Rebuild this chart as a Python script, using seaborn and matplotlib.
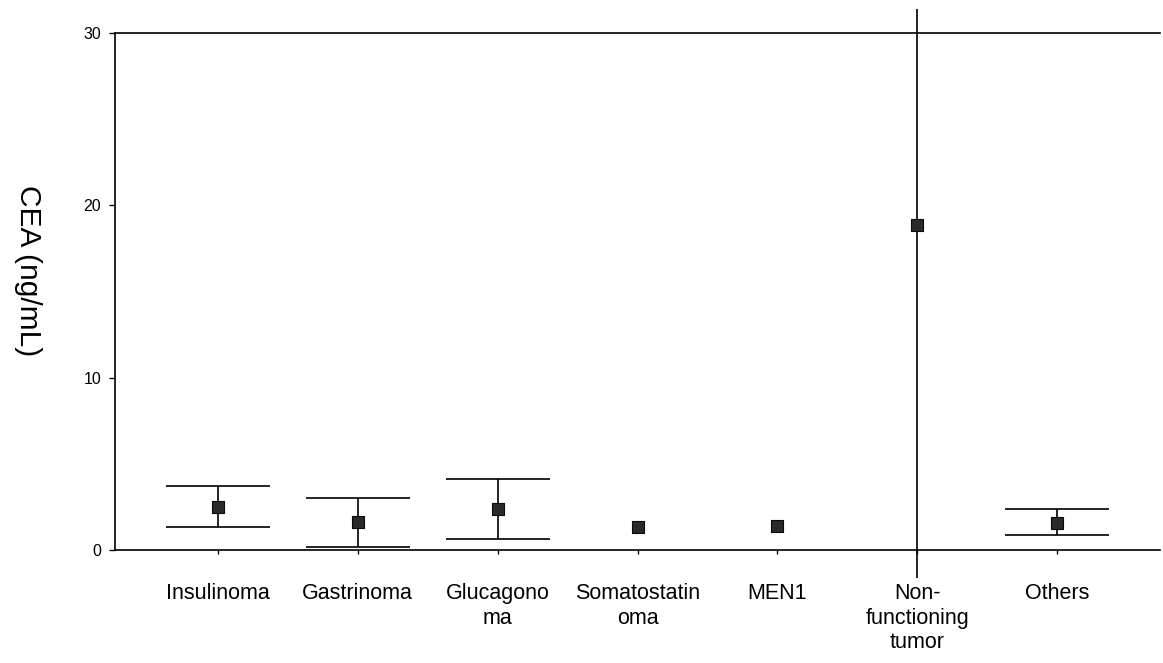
import numpy as np
import pandas as pd
import matplotlib
matplotlib.use("Agg")
import matplotlib.pyplot as plt
import seaborn as sns

# ---- data ----
categories = ["Insulinoma", "Gastrinoma", "Glucagono\nma", "Somatostatin\noma",
              "MEN1", "Non-\nfunctioning\ntumor", "Others"]
means = [2.52, 1.61, 2.38, 1.35, 1.40, 18.85, 1.59]
lower = [1.34, 0.19, 0.64, np.nan, np.nan, -1.6, 0.87]
upper = [3.70, 3.00, 4.11, np.nan, np.nan, 31.4, 2.37]
yticks = [0, 10, 20, 30]

df = pd.DataFrame({"group": categories, "cea": means,
                   "lo": lower, "hi": upper})

sns.set_theme(style="ticks")
plt.rcParams["font.family"] = ["Liberation Sans", "DejaVu Sans"]
plt.rcParams["text.color"] = "black"
plt.rcParams["axes.labelcolor"] = "black"

fig = plt.figure(figsize=(11.63, 6.63), dpi=100)
ax = fig.add_axes([115 / 1163, 1 - 550 / 663, 1045 / 1163, 517 / 663])

pos = np.arange(len(categories))
lw = 1.2

# error bars with caps (only those fully inside the axes)
for i, row in df.iterrows():
    if np.isnan(row["lo"]):
        continue
    if row["hi"] > 30:
        # very wide bar running beyond the frame, no caps visible
        ax.vlines(pos[i], row["lo"], row["hi"], color="black", lw=lw,
                  clip_on=False, zorder=2)
        continue
    ax.errorbar(pos[i], row["cea"],
                yerr=[[row["cea"] - row["lo"]], [row["hi"] - row["cea"]]],
                fmt="none", ecolor="black", elinewidth=lw,
                capsize=37.5, capthick=lw, zorder=2)

sns.scatterplot(data=df, x="group", y="cea", ax=ax, marker="s", s=65,
                color="#2a2a2a", edgecolor="#0a0a0a", linewidth=0.8,
                zorder=3, legend=False)

ax.set_xlim(-0.735, 6.735)
ax.set_ylim(0, 30)
ax.set_yticks(yticks)
ax.set_yticklabels([str(t) for t in yticks], fontsize=11.5)
ax.set_xticks(pos)
ax.set_xticklabels(categories, fontsize=15.5, linespacing=1.22)

ax.tick_params(axis="y", direction="out", length=4, width=1.0, pad=6,
               colors="black")
ax.tick_params(axis="x", direction="out", length=3, width=1.0, pad=21,
               colors="black")

ax.set_xlabel("")
ax.set_ylabel("CEA (ng/mL)", fontsize=21.5, rotation=270, va="center",
              ha="center", color="black")
ax.yaxis.set_label_coords(-0.083, 0.54)

for side in ["left", "bottom", "top"]:
    ax.spines[side].set_visible(True)
    ax.spines[side].set_linewidth(1.2)
    ax.spines[side].set_color("black")
ax.spines["right"].set_visible(False)

fig.savefig("out.png", dpi=100)
